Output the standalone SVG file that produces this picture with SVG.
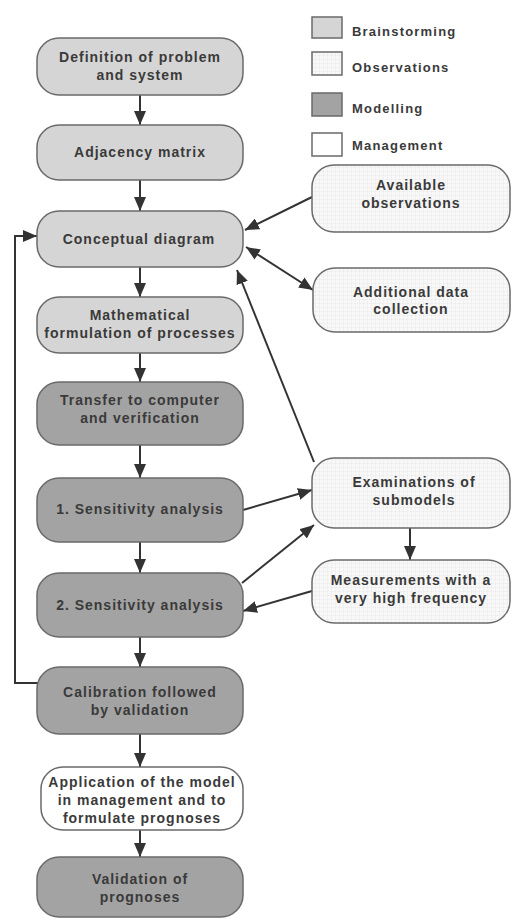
<svg xmlns="http://www.w3.org/2000/svg" width="512" height="920" viewBox="0 0 512 920">
<style>
  .bs{fill:#d5d5d5;stroke:#6a6a6a;stroke-width:1.5}
  .md{fill:#a3a3a3;stroke:#6a6a6a;stroke-width:1.5}
  .ob{fill:url(#grid);stroke:#6a6a6a;stroke-width:1.5}
  .mg{fill:#ffffff;stroke:#6a6a6a;stroke-width:1.5}
  text{font-family:"Liberation Sans",Arial,sans-serif;font-weight:bold;font-size:14px;letter-spacing:1px;fill:#3a3a3a;text-anchor:middle}
  .lg{text-anchor:start;font-size:13px;letter-spacing:1.2px}
  .cn{fill:none;stroke:#333;stroke-width:2}
</style>
<defs>
  <pattern id="grid" width="4" height="4" patternUnits="userSpaceOnUse">
    <rect width="4" height="4" fill="#f8f8f8"/>
    <path d="M4,0 V4 M0,4 H4" stroke="#e0e0e0" stroke-width="0.6"/>
  </pattern>
  <marker id="ah" markerWidth="14" markerHeight="12" refX="14" refY="6" orient="auto-start-reverse" markerUnits="userSpaceOnUse">
    <path d="M0,0 L14,6 L0,12 z" fill="#333"/>
  </marker>
</defs>
<rect width="512" height="920" fill="#ffffff"/>

<g id="legend">
  <rect x="312" y="17" width="30" height="21" class="bs"/>
  <text x="352" y="36" class="lg">Brainstorming</text>
  <rect x="312" y="52" width="30" height="23" class="ob"/>
  <text x="352" y="72" class="lg">Observations</text>
  <rect x="312" y="93" width="30" height="23" class="md"/>
  <text x="352" y="113" class="lg">Modelling</text>
  <rect x="312" y="133" width="30" height="23" class="mg"/>
  <text x="352" y="150" class="lg">Management</text>
</g>

<g id="connectors">
  <line x1="140" y1="95" x2="140" y2="125" class="cn" marker-end="url(#ah)"/>
  <line x1="140" y1="180" x2="140" y2="211" class="cn" marker-end="url(#ah)"/>
  <line x1="140" y1="267" x2="140" y2="297" class="cn" marker-end="url(#ah)"/>
  <line x1="140" y1="353" x2="140" y2="382" class="cn" marker-end="url(#ah)"/>
  <line x1="140" y1="445" x2="140" y2="478" class="cn" marker-end="url(#ah)"/>
  <line x1="140" y1="542" x2="140" y2="573" class="cn" marker-end="url(#ah)"/>
  <line x1="140" y1="637" x2="140" y2="667" class="cn" marker-end="url(#ah)"/>
  <line x1="140" y1="734" x2="140" y2="767" class="cn" marker-end="url(#ah)"/>
  <line x1="140" y1="830" x2="140" y2="857" class="cn" marker-end="url(#ah)"/>
  <polyline points="38,683 15,683 15,236 37,236" class="cn" marker-end="url(#ah)"/>
  <line x1="312" y1="197" x2="245" y2="230" class="cn" marker-end="url(#ah)"/>
  <line x1="246" y1="247" x2="313" y2="290" class="cn" marker-start="url(#ah)" marker-end="url(#ah)"/>
  <line x1="314" y1="462" x2="237" y2="270" class="cn" marker-end="url(#ah)"/>
  <line x1="243" y1="510" x2="312" y2="490" class="cn" marker-end="url(#ah)"/>
  <line x1="242" y1="583" x2="314" y2="525" class="cn" marker-end="url(#ah)"/>
  <line x1="312" y1="591" x2="243" y2="611" class="cn" marker-end="url(#ah)"/>
  <line x1="410" y1="528" x2="410" y2="560" class="cn" marker-end="url(#ah)"/>
</g>

<g id="n-definition">
  <rect x="37" y="38" width="206" height="57" rx="22" class="bs"/>
  <text x="140" y="62">Definition of problem</text>
  <text x="140" y="80">and system</text>
</g>
<g id="n-adjacency">
  <rect x="37" y="125" width="206" height="55" rx="22" class="bs"/>
  <text x="140" y="157">Adjacency matrix</text>
</g>
<g id="n-conceptual">
  <rect x="37" y="211" width="206" height="56" rx="22" class="bs"/>
  <text x="139" y="244">Conceptual diagram</text>
</g>
<g id="n-mathematical">
  <rect x="37" y="297" width="206" height="56" rx="22" class="bs"/>
  <text x="140" y="320">Mathematical</text>
  <text x="140" y="338">formulation of processes</text>
</g>
<g id="n-transfer">
  <rect x="37" y="382" width="206" height="63" rx="22" class="md"/>
  <text x="140" y="405">Transfer to computer</text>
  <text x="140" y="423">and verification</text>
</g>
<g id="n-sens1">
  <rect x="37" y="478" width="206" height="64" rx="22" class="md"/>
  <text x="140" y="514">1. Sensitivity analysis</text>
</g>
<g id="n-sens2">
  <rect x="37" y="573" width="206" height="64" rx="22" class="md"/>
  <text x="140" y="610">2. Sensitivity analysis</text>
</g>
<g id="n-calibration">
  <rect x="37" y="667" width="206" height="67" rx="22" class="md"/>
  <text x="140" y="697">Calibration followed</text>
  <text x="140" y="715">by validation</text>
</g>
<g id="n-application">
  <rect x="41" y="767" width="202" height="63" rx="22" class="mg"/>
  <text x="142" y="787">Application of the model</text>
  <text x="142" y="805">in management and to</text>
  <text x="142" y="823">formulate prognoses</text>
</g>
<g id="n-validation">
  <rect x="37" y="857" width="206" height="60" rx="22" class="md"/>
  <text x="140" y="884">Validation of</text>
  <text x="140" y="902">prognoses</text>
</g>

<g id="n-available">
  <rect x="312" y="165" width="198" height="67" rx="22" class="ob"/>
  <text x="411" y="190">Available</text>
  <text x="411" y="208">observations</text>
</g>
<g id="n-additional">
  <rect x="313" y="268" width="197" height="64" rx="22" class="ob"/>
  <text x="411" y="297">Additional data</text>
  <text x="411" y="314">collection</text>
</g>
<g id="n-examinations">
  <rect x="312" y="458" width="198" height="70" rx="22" class="ob"/>
  <text x="414" y="487">Examinations of</text>
  <text x="414" y="505">submodels</text>
</g>
<g id="n-measurements">
  <rect x="312" y="560" width="198" height="63" rx="22" class="ob"/>
  <text x="411" y="585">Measurements with a</text>
  <text x="411" y="603">very high frequency</text>
</g>
</svg>
